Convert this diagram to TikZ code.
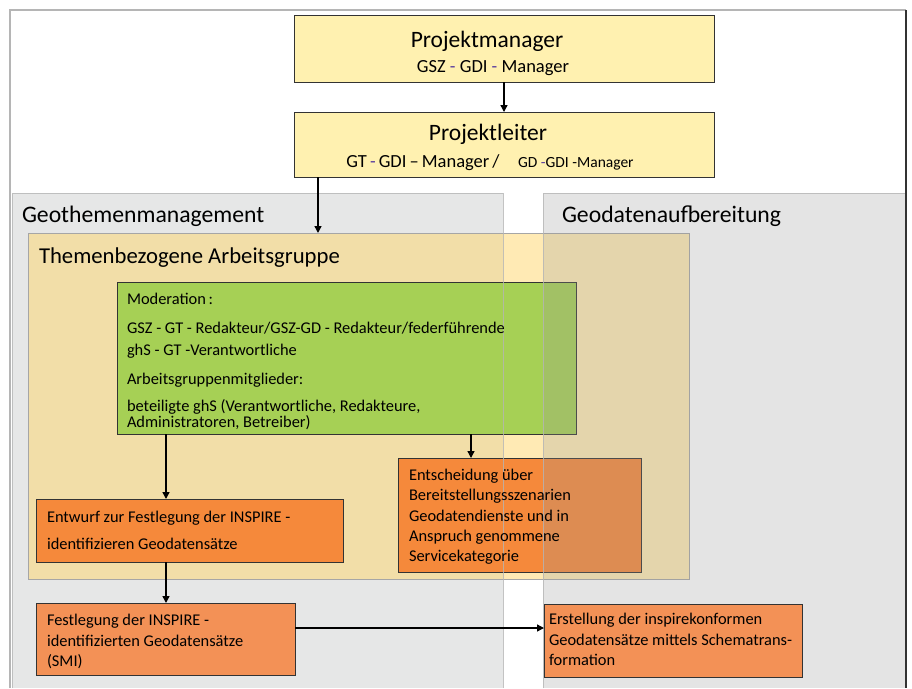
\documentclass[tikz,border=0pt]{standalone}
\usepackage{fontspec}
\setmainfont{Carlito}
\usetikzlibrary{arrows.meta}
\definecolor{pmyellow}{HTML}{FFF1B0}
\definecolor{panelgrey}{HTML}{E6E7E7}
\definecolor{panelline}{HTML}{B5B5B5}
\definecolor{aggold}{HTML}{FFD76B}
\definecolor{modgreen}{HTML}{A6D055}
\definecolor{orangeA}{HTML}{F5893B}
\definecolor{orangeB}{HTML}{F39156}
\definecolor{dashpurple}{HTML}{5A3D9E}
\definecolor{overlaygrey}{HTML}{979797}
\tikzset{
  box/.style={draw=black!80, line width=0.8pt, anchor=north west, inner sep=0pt, outer sep=0pt},
  txt/.style={anchor=base west, inner sep=0pt, outer sep=0pt},
  ctxt/.style={anchor=base, inner sep=0pt, outer sep=0pt},
  arr/.style={line width=1.4pt, -{Triangle[length=7pt,width=7pt]}},
  head/.style={font=\fontsize{23.7}{26}\selectfont},
  small/.style={font=\fontsize{16.4}{18}\selectfont},
}
\newcommand{\pd}{\textcolor{dashpurple}{-}}
\begin{document}
\begin{tikzpicture}[x=1pt,y=-1pt]
\useasboundingbox (0,0) rectangle (912,688);
\fill[white] (0,0) rectangle (912,688);
% left panel
\fill[panelgrey] (12,193) rectangle (503,688);
% outer frame
\draw[panelline, line width=1.2pt] (10,688) -- (10,10) -- (906,10);
% top boxes
\node[box, fill=pmyellow, minimum width=420pt, minimum height=67pt] (pm) at (294,15) {};
\node[box, fill=pmyellow, minimum width=420pt, minimum height=65pt] (pl) at (294,112) {};
\node[ctxt, font=\fontsize{23.5}{26}\selectfont] (pmt) at (487,47) {Projektmanager};
\node[ctxt, font=\fontsize{18.5}{20}\selectfont] (pms) at (493,72) {GSZ \pd{} GDI \pd{} Manager};
\node[ctxt, font=\fontsize{23.5}{26}\selectfont] (plt) at (488,140) {Projektleiter};
\node[ctxt, font=\fontsize{18.5}{20}\selectfont] (pls) at (490,167) {GT\,\pd\,GDI\,--\,Manager\,/\quad{\fontsize{15.5}{17}\selectfont GD \pd GDI -Manager}};
% panel titles
\node[txt, head] (geo1) at (22,222) {Geothemenmanagement};
% Arbeitsgruppe
\node[box, draw=black!35, line width=0.6pt, fill=aggold, fill opacity=0.5, minimum width=661pt, minimum height=346pt] (ag) at (28,233) {};
\node[txt, font=\fontsize{22.7}{24}\selectfont] (agt) at (39,263) {Themenbezogene Arbeitsgruppe};
% Moderation box
\node[box, fill=modgreen, minimum width=459pt, minimum height=152pt] (mod) at (117,282) {};
% Entwurf
\node[box, fill=orangeA, minimum width=307pt, minimum height=63pt] (ent) at (36,499) {};
\node[txt, small] (e1) at (47,522) {Entwurf zur Festlegung der INSPIRE -};
\node[txt, small] (e2) at (47,549) {identifizieren Geodatensätze};
% Entscheidung
\node[box, fill=orangeA, minimum width=243pt, minimum height=114pt] (ens) at (398,458) {};
% right panel (translucent, drawn over)
\fill[overlaygrey, opacity=0.25] (543,193) rectangle (905,688);
\draw[panelline, line width=0.8pt, opacity=0.8] (12,688) -- (12,193) -- (503,193) -- (503,688);
\draw[panelline, line width=0.8pt, opacity=0.8] (543,688) -- (543,193) -- (905,193);
\draw[black!80, line width=2pt] (906,10) -- (906,688);
\node[txt, head] (geo2) at (562,222) {Geodatenaufbereitung};
% texts over the panel
\node[txt, small] (m1) at (127,304) {Moderation\,:};
\node[txt, small] (m2) at (127,333) {GSZ - GT - Redakteur/GSZ-GD - Redakteur/federführende};
\node[txt, small] (m3) at (127,355) {ghS - GT -Verantwortliche};
\node[txt, small] (m4) at (127,384) {Arbeitsgruppenmitglieder:};
\node[txt, small] (m5) at (127,411) {beteiligte ghS (Verantwortliche, Redakteure,};
\node[txt, small] (m6) at (127,427) {Administratoren, Betreiber)};
\node[txt, small] (s1) at (409,480) {Entscheidung über};
\node[txt, small] (s2) at (409,500) {Bereitstellungsszenarien};
\node[txt, small] (s3) at (409,521) {Geodatendienste und in};
\node[txt, small] (s4) at (409,541) {Anspruch genommene};
\node[txt, small] (s5) at (409,561) {Servicekategorie};
% Festlegung
\node[box, fill=orangeB, minimum width=259pt, minimum height=72pt] (fest) at (36,603) {};
\node[txt, small] (f1) at (47,625) {Festlegung der INSPIRE -};
\node[txt, small] (f2) at (47,646) {identifizierten Geodatensätze};
\node[txt, small] (f3) at (47,666) {(SMI)};
% Erstellung
\node[box, fill=orangeB, minimum width=258pt, minimum height=73pt] (erst) at (544,604) {};
\node[txt, small] (r1) at (549,624) {Erstellung der inspirekonformen};
\node[txt, small] (r2) at (549,645) {Geodatensätze mittels Schematrans-};
\node[txt, small] (r3) at (549,665) {formation};
% connectors
\draw[arr] (pm.south) -- (pl.north);
\draw[arr] ([xshift=24pt]pl.south west) -- ([xshift=24pt]pl.south west |- ag.north);
\draw[arr] ([xshift=49pt]mod.south west) -- ([xshift=49pt]mod.south west |- ent.north);
\draw[arr] ([xshift=354pt]mod.south west) -- ([xshift=354pt]mod.south west |- ens.north);
\draw[arr] ([xshift=130pt]ent.south west) -- ([xshift=130pt]ent.south west |- fest.north);
\draw[arr] ([yshift=11pt]fest.east) -- ([yshift=11pt]fest.east -| erst.west);
\end{tikzpicture}
\end{document}
